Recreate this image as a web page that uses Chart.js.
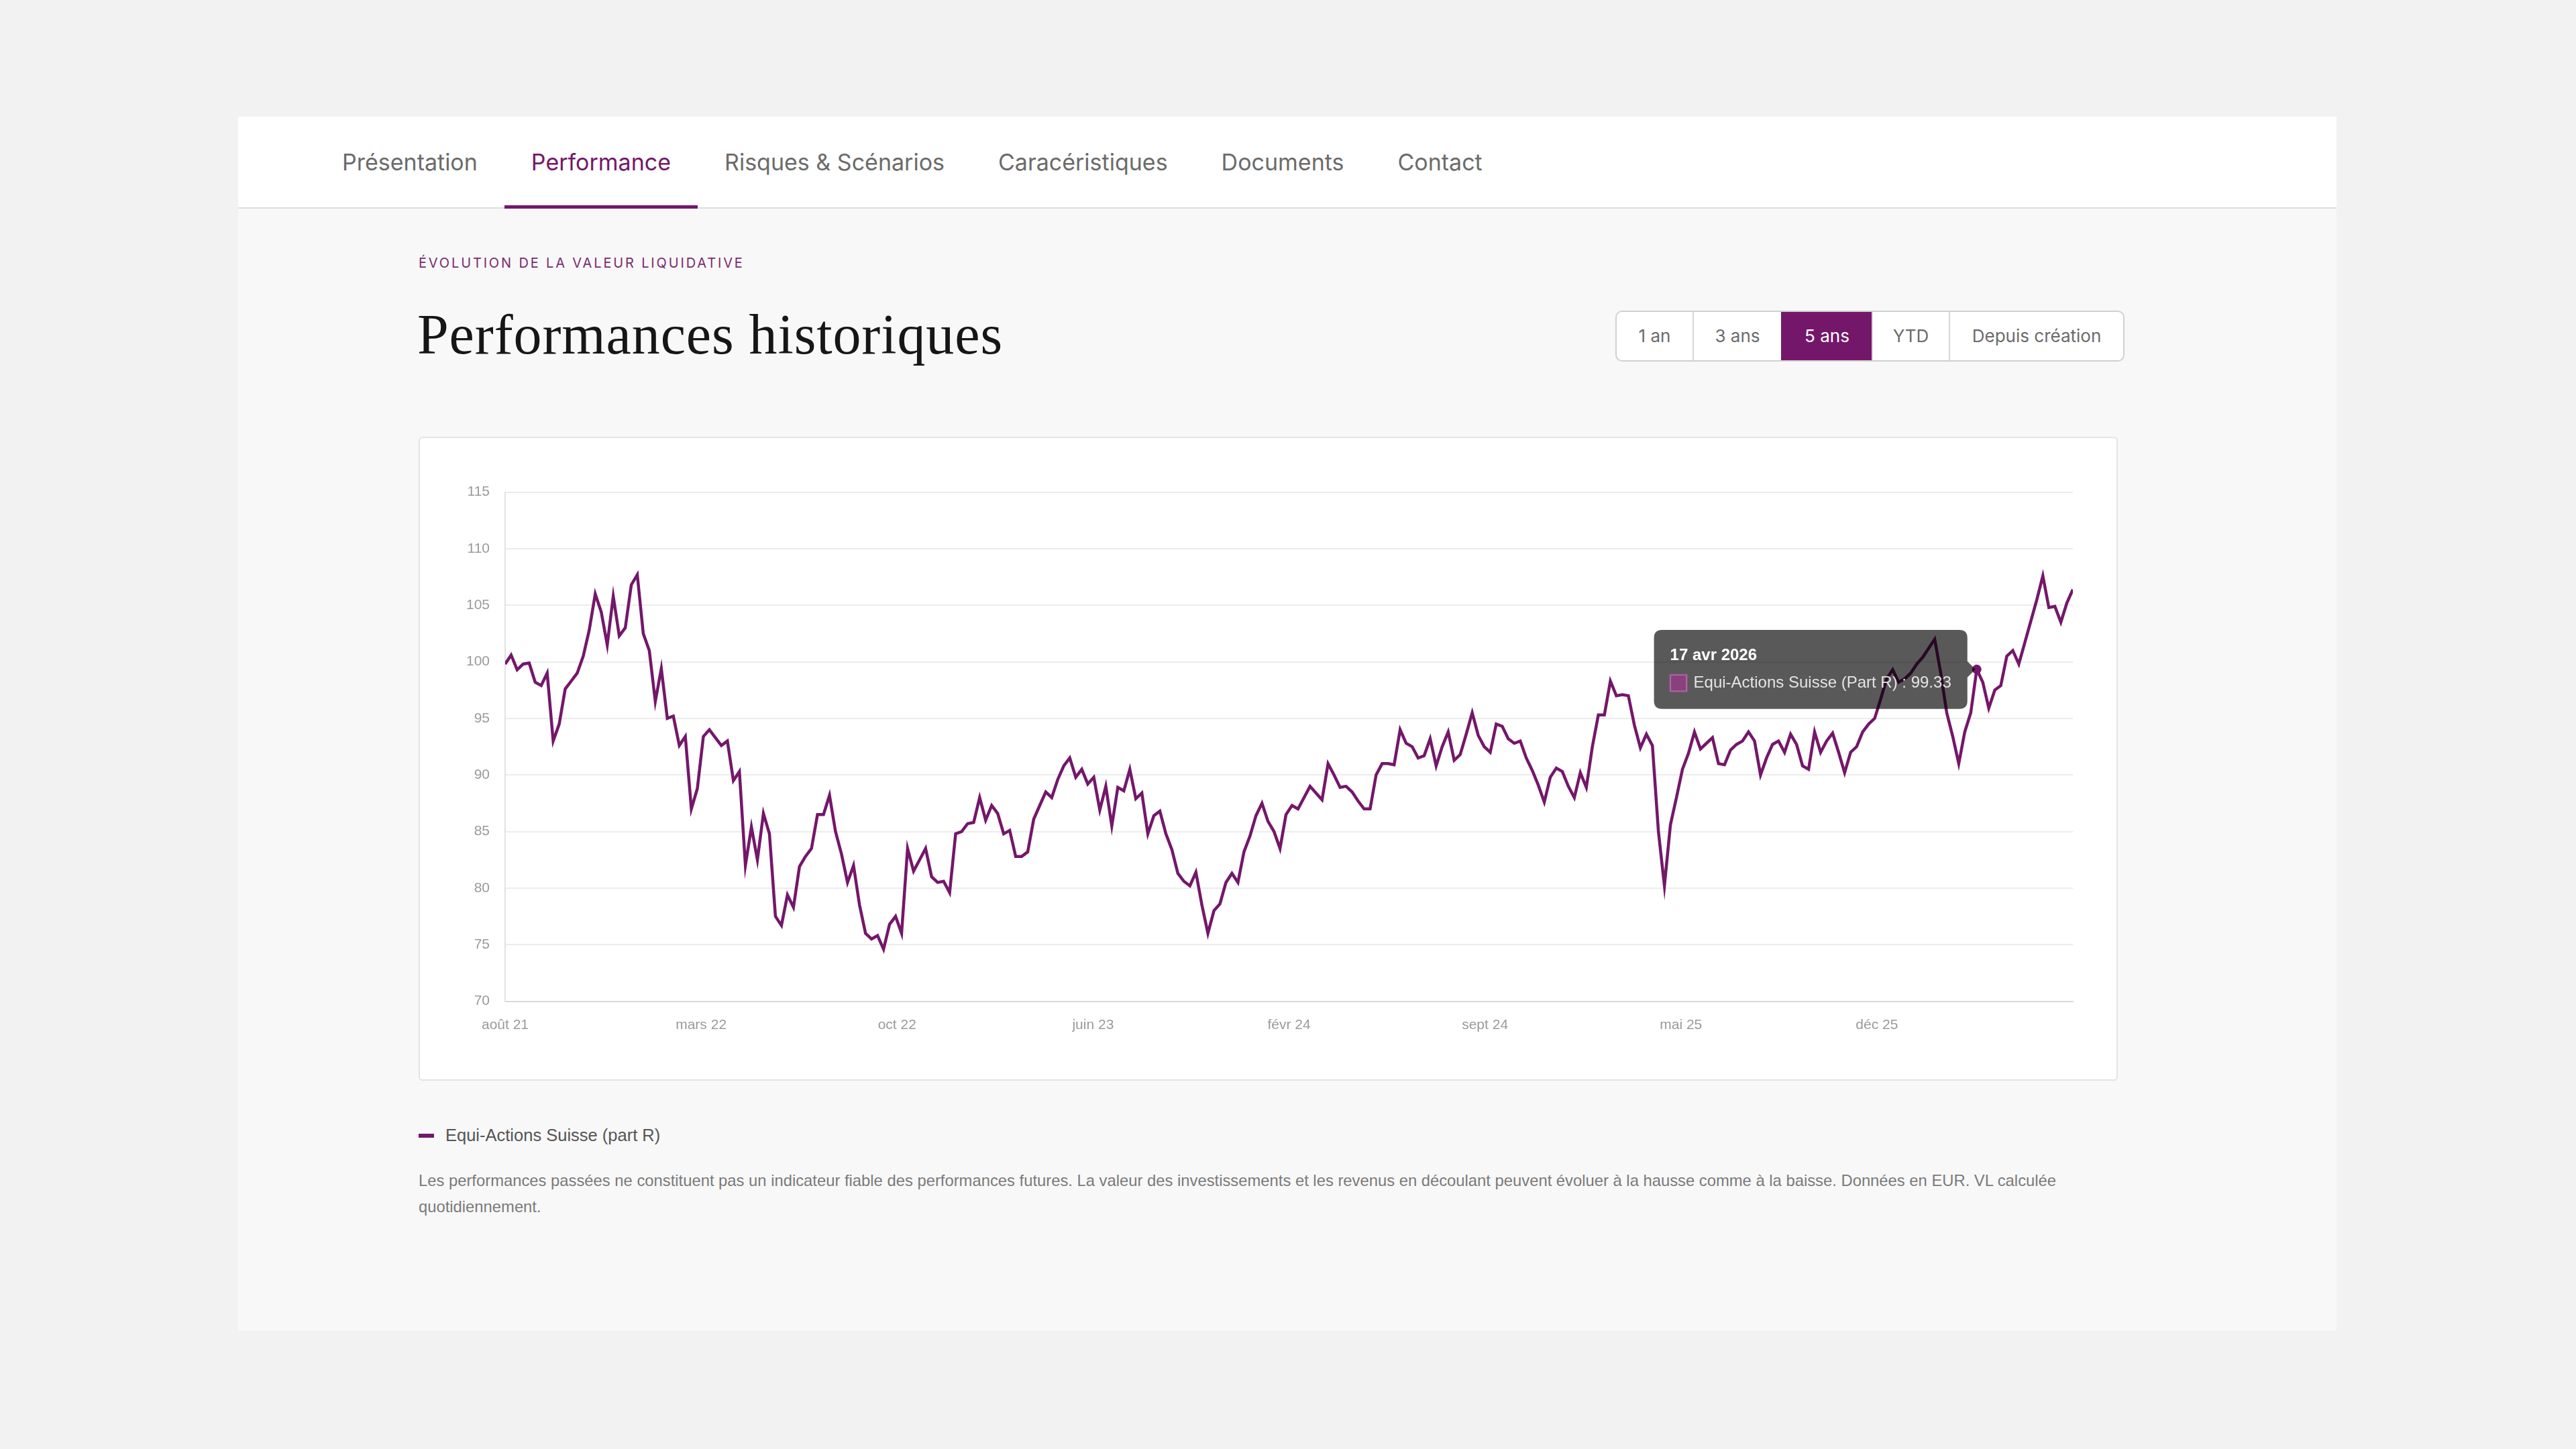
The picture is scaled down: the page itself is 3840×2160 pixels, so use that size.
<!DOCTYPE html>
<html lang="fr">
<head>
<meta charset="utf-8">
<title>Performances historiques</title>
<script src="https://cdn.jsdelivr.net/npm/chart.js@4.4.1/dist/chart.umd.min.js"></script>
<style>
  html, body { margin: 0; padding: 0; }
  body {
    width: 3840px; height: 2160px; position: relative; overflow: hidden;
    background: #f2f2f2; font-family: Inter, sans-serif;
  }
  .panel { position: absolute; left: 355px; top: 174px; width: 3128px; height: 1810px; background: #f8f8f8; }

  /* ── Top navigation ── */
  .nav {
    position: absolute; left: 355px; top: 174px; width: 3128px; height: 135px;
    background: #fff; border-bottom: 2px solid #dedede;
  }
  .tabs { position: absolute; left: 115px; top: 0; height: 135px; display: flex; }
  .tab { position: relative; padding: 0 40px; height: 135px; line-height: 135px; font-size: 34px; color: #6b6b6b; white-space: nowrap; }
  .tab.active { color: #74176a; }
  .tab.active::after { content: ''; position: absolute; left: 0; right: 0; bottom: -2px; height: 5px; background: #74176a; }

  /* ── Section header ── */
  .eyebrow {
    position: absolute; left: 624px; top: 379px; line-height: 26px;
    font-size: 20px; letter-spacing: 2.85px; color: #7a2a6e; text-transform: uppercase;
  }
  .title {
    position: absolute; left: 622px; top: 457px; line-height: 84px; margin: 0;
    font-family: "Liberation Serif", serif; font-weight: 400; font-size: 84px; letter-spacing: 0.9px; color: #161616;
  }
  .periods {
    position: absolute; left: 2408px; top: 463px; height: 76px; display: flex;
    border: 2px solid #d0d0d0; border-radius: 10px; overflow: hidden; background: #fff; box-sizing: border-box;
  }
  .periods span {
    display: block; height: 72px; line-height: 72px; text-align: center;
    font-size: 26px; color: #6b6b6b; border-left: 2px solid #d6d6d6; box-sizing: border-box;
  }
  .periods span:first-child { border-left: none; }
  .periods span.on { background: #74176a; color: #fff; border-left-color: #74176a; }

  /* ── Chart card ── */
  .card {
    position: absolute; left: 624px; top: 651px; width: 2533px; height: 960px;
    background: #fff; border: 2px solid #e3e3e3; border-radius: 6px; box-sizing: border-box;
  }
  .chart-box { position: absolute; left: 624px; top: 651px; width: 2533px; height: 960px; }

  /* ── Legend + disclaimer ── */
  .legend {
    position: absolute; left: 624px; top: 1676px; height: 32px; line-height: 32px;
    font-family: "Liberation Sans", Arial, sans-serif; font-size: 25.5px; color: #555;
  }
  .legend i { display: inline-block; width: 23px; height: 6px; background: #74176a; vertical-align: middle; margin: -3px 17px 0 0; }
  .note {
    position: absolute; left: 624px; top: 1740px; width: 2560px; line-height: 39px;
    font-family: "Liberation Sans", Arial, sans-serif; font-size: 23.8px; color: #7a7a7a;
  }
</style>
</head>
<body>
  <div class="panel"></div>
  <div class="nav">
    <div class="tabs">
      <div class="tab">Présentation</div>
      <div class="tab active">Performance</div>
      <div class="tab">Risques &amp; Scénarios</div>
      <div class="tab">Caracéristiques</div>
      <div class="tab">Documents</div>
      <div class="tab">Contact</div>
    </div>
  </div>

  <div class="eyebrow">Évolution de la valeur liquidative</div>
  <h1 class="title">Performances historiques</h1>
  <div class="periods">
    <span style="width:113px">1 an</span>
    <span style="width:132px">3 ans</span>
    <span class="on" style="width:135px">5 ans</span>
    <span style="width:115px">YTD</span>
    <span style="width:260px">Depuis création</span>
  </div>

  <div class="card"></div>
  <div class="chart-box"><canvas id="nav-chart"></canvas></div>

  <div class="legend"><i></i>Equi-Actions Suisse (part R)</div>
  <div class="note">Les performances passées ne constituent pas un indicateur fiable des performances futures. La valeur des investissements et les revenus en découlant peuvent évoluer à la hausse comme à la baisse. Données en EUR. VL calculée<br>quotidiennement.</div>

<script>
// ─────────────────────────────────────────────
//  Weekly NAV, base 100
// ─────────────────────────────────────────────
const seriesLabel = 'Equi-Actions Suisse (Part R)';
const firstDate = [2021, 7, 6];          // Fri 6 Aug 2021, one point per week after that
const moisCourts = ['janv', 'févr', 'mars', 'avr', 'mai', 'juin', 'juil', 'août', 'sept', 'oct', 'nov', 'déc'];
const xTickLabels = ['août 21', 'mars 22', 'oct 22', 'juin 23', 'févr 24', 'sept 24', 'mai 25', 'déc 25'];
const yMin = 70, yMax = 115, yStep = 5;
const hoverIndex = 245;                   // 17 avr 2026, shown in the tooltip

const navValues = [
  99.8, 100.6, 99.3, 99.8, 99.9, 98.2, 97.9, 99.0, 93.0, 94.5,
  97.6, 98.3, 99.0, 100.5, 102.8, 106.0, 104.4, 101.5, 105.8, 102.3,
  103.0, 106.8, 107.7, 102.5, 101.0, 96.5, 99.4, 95.0, 95.2, 92.6,
  93.4, 87.0, 88.8, 93.4, 94.0, 93.3, 92.6, 93.0, 89.5, 90.3,
  82.0, 85.4, 82.5, 86.6, 84.8, 77.5, 76.7, 79.4, 78.3, 81.9,
  82.8, 83.5, 86.5, 86.5, 88.2, 85.0, 83.0, 80.5, 82.0, 78.5,
  76.0, 75.5, 75.8, 74.6, 76.8, 77.5, 76.0, 83.5, 81.5, 82.5,
  83.5, 81.0, 80.5, 80.6, 79.6, 84.8, 85.0, 85.7, 85.8, 88.0,
  86.0, 87.3, 86.6, 84.8, 85.1, 82.8, 82.8, 83.2, 86.1, 87.3,
  88.5, 88.0, 89.6, 90.8, 91.5, 89.8, 90.5, 89.2, 89.8, 86.9,
  89.0, 85.5, 88.9, 88.6, 90.5, 87.9, 88.4, 84.8, 86.4, 86.8,
  84.8, 83.4, 81.3, 80.6, 80.2, 81.4, 78.5, 76.0, 78.0, 78.6,
  80.5, 81.3, 80.5, 83.2, 84.6, 86.4, 87.5, 85.9, 85.0, 83.5,
  86.5, 87.3, 87.0, 88.0, 89.0, 88.4, 87.8, 91.0, 90.0, 88.9,
  89.0, 88.5, 87.7, 87.0, 87.0, 90.0, 91.0, 91.0, 90.9, 94.0,
  92.8, 92.5, 91.5, 91.7, 93.2, 90.8, 92.5, 93.8, 91.3, 91.8,
  93.6, 95.5, 93.5, 92.5, 92.0, 94.5, 94.3, 93.2, 92.8, 93.0,
  91.5, 90.4, 89.1, 87.6, 89.8, 90.6, 90.3, 89.0, 88.0, 90.2,
  88.9, 92.5, 95.3, 95.3, 98.3, 97.0, 97.1, 97.0, 94.4, 92.4,
  93.6, 92.6, 85.0, 80.2, 85.6, 88.0, 90.5, 91.9, 93.8, 92.3,
  92.8, 93.3, 91.0, 90.9, 92.2, 92.7, 93.0, 93.8, 93.0, 90.0,
  91.5, 92.7, 93.0, 92.0, 93.6, 92.7, 90.8, 90.5, 93.8, 92.0,
  93.0, 93.7, 92.0, 90.2, 92.0, 92.5, 93.8, 94.5, 95.0, 96.7,
  98.5, 99.3, 98.2, 98.5, 99.0, 99.8, 100.4, 101.2, 102.0, 99.0,
  95.5, 93.4, 91.0, 93.8, 95.5, 99.33, 98.2, 95.9, 97.5, 97.9,
  100.5, 101.0, 99.8, 101.7, 103.6, 105.5, 107.6, 104.8, 104.9, 103.5,
  105.2, 106.4,
];

const PURPLE = '#74176a';
const TICK_COLOR = '#9a9a9a';
const CHART_FONT = "'Liberation Sans', Arial, sans-serif";

function navDate(i) {
  return new Date(firstDate[0], firstDate[1], firstDate[2] + 7 * i);
}
function formatDate(d) {
  return d.getDate() + ' ' + moisCourts[d.getMonth()] + ' ' + d.getFullYear();
}

const points = navValues.map((v, i) => ({ x: i, y: v }));
const lastIndex = navValues.length - 1;

Chart.defaults.font.family = CHART_FONT;

const chart = new Chart(document.getElementById('nav-chart'), {
  type: 'line',
  data: {
    datasets: [{
      label: seriesLabel,
      data: points,
      borderColor: PURPLE,
      backgroundColor: 'rgba(116, 23, 106, 0.6)',
      borderWidth: 4.5,
      tension: 0,
      pointRadius: 0,
      pointHoverRadius: 7,
      pointHoverBackgroundColor: PURPLE,
      pointHoverBorderWidth: 0,
    }],
  },
  options: {
    responsive: true,
    maintainAspectRatio: false,
    animation: false,
    layout: { padding: { left: 0, right: 67, top: 82.6, bottom: 0 } },
    interaction: { mode: 'nearest', axis: 'x', intersect: false },
    scales: {
      x: {
        type: 'linear',
        min: 0,
        max: lastIndex,
        grid: { display: false },
        border: { display: true, color: '#d9d9d9', width: 2 },
        afterBuildTicks: (axis) => {
          axis.ticks = xTickLabels.map((_, k) => ({ value: k * lastIndex / 8 }));
        },
        ticks: {
          autoSkip: false,
          maxRotation: 0,
          padding: 15,
          color: TICK_COLOR,
          font: { size: 21 },
          callback: (value, k) => xTickLabels[k],
        },
        afterFit: (axis) => { axis.height = 118.5; },
      },
      y: {
        min: yMin,
        max: yMax,
        grid: { color: '#ececec', lineWidth: 2, drawTicks: false },
        border: { display: true, color: '#e2e2e2', width: 2 },
        ticks: { stepSize: yStep, padding: 23, color: TICK_COLOR, font: { size: 21 } },
        afterFit: (axis) => { axis.width = 129; },
      },
    },
    plugins: {
      legend: { display: false },
      tooltip: {
        backgroundColor: 'rgba(0, 0, 0, 0.65)',
        titleColor: '#ffffff',
        titleFont: { size: 24, weight: 'bold' },
        titleMarginBottom: 12,
        bodyColor: '#e4e4e4',
        bodyFont: { size: 24 },
        padding: 24,
        cornerRadius: 12,
        caretSize: 12,
        caretPadding: 2,
        boxWidth: 25,
        boxHeight: 25,
        boxPadding: 8,
        callbacks: {
          title: (items) => formatDate(navDate(items[0].dataIndex)),
          label: (ctx) => ctx.dataset.label + ' : ' + ctx.parsed.y.toFixed(2),
          labelColor: () => ({ borderColor: '#a25a98', backgroundColor: '#8a3f7f', borderWidth: 2 }),
        },
      },
    },
  },
});

// show the hovered point + tooltip as in the screenshot
const hoverPt = chart.getDatasetMeta(0).data[hoverIndex];
chart.setActiveElements([{ datasetIndex: 0, index: hoverIndex }]);
chart.tooltip.setActiveElements([{ datasetIndex: 0, index: hoverIndex }], { x: hoverPt.x, y: hoverPt.y });
chart.update('none');
</script>
</body>
</html>
